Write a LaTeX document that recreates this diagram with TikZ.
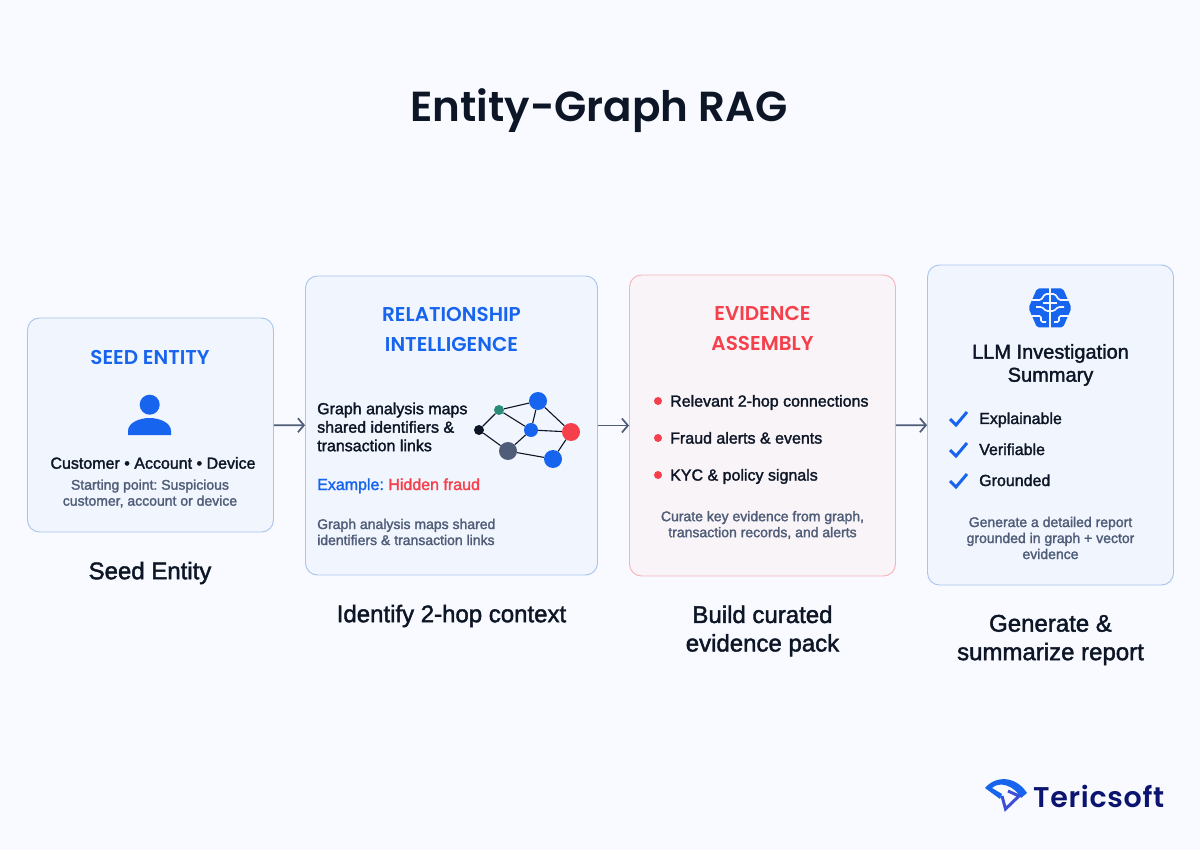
\documentclass[tikz,border=0pt]{standalone}
\usepackage{fontspec}
\usetikzlibrary{arrows.meta}
\setmainfont{Liberation Sans}
\newfontfamily\popfont{Poppins SemiBold}
\newfontfamily\logofont{Poppins SemiBold}[LetterSpace=2.5]
\newfontfamily\medfont{Liberation Sans}[FakeBold=1.8]
\definecolor{pagebg}{HTML}{F8FAFF}
\definecolor{cardfill}{HTML}{F1F5FD}
\definecolor{evfill}{HTML}{F9F4F8}
\definecolor{blueline}{HTML}{A9C4EC}
\definecolor{redline}{HTML}{F6B3BA}
\definecolor{tsblue}{HTML}{1764EE}
\definecolor{tsred}{HTML}{F5404C}
\definecolor{tsink}{HTML}{0D1626}
\definecolor{tsgrey}{HTML}{4F5D78}
\definecolor{tsgreen}{HTML}{2A8C78}
\definecolor{tsnavy}{HTML}{0B1470}
\definecolor{tsindigo}{HTML}{3D4FD6}
\newcommand{\fs}[1]{\fontsize{#1}{#1}\selectfont}
\frenchspacing
\begin{document}
\begin{tikzpicture}[x=1pt,y=-1pt,
    card/.style={rectangle,draw=blueline,fill=cardfill,rounded corners=12pt,line width=0.9pt},
    head/.style={align=center,text=tsblue,font=\popfont\fs{20},text depth=0pt},
    dark/.style={align=left,text=tsink,font=\medfont\fs{16},inner sep=0pt},
    row/.style={dark,anchor=west,text height=11pt,text depth=3pt},
    small/.style={align=center,text=tsgrey,font=\medfont\fs{14},inner sep=0pt},
    capt/.style={align=center,text=tsink,font=\medfont\fs{24}},
    flow/.style={->,>={Straight Barb[length=6pt,width=14pt]},draw=tsgrey,line width=1.7pt},
    link/.style={draw=tsink,line width=1.1pt},
    dot/.style={circle,fill=#1,inner sep=0pt},
    tick/.style={draw=tsblue,line width=3pt,line join=miter},
    trace/.style={draw=cardfill,line width=1.7pt,rounded corners=1.5pt}]
    \useasboundingbox[fill=pagebg] (0,0) rectangle (1200,850);

    \node[font=\popfont\fs{42},text=tsink] (title) at (599,111) {Entity-Graph RAG};

    \node[card,minimum width=246pt,minimum height=214pt] (seed) at (150.5,425) {};
    \node[card,minimum width=292pt,minimum height=299pt] (rel) at (451.5,425.5) {};
    \node[card,draw=redline,fill=evfill,minimum width=266pt,minimum height=301pt] (evid) at (762.5,425.5) {};
    \node[card,minimum width=246pt,minimum height=320pt] (llm) at (1050.5,425) {};

    \draw[flow] (seed) -- (rel);
    \draw[flow] (rel) -- (evid);
    \draw[flow] (evid) -- (llm);

    % seed card
    \node[head] (seedhead) at (150,357) {SEED ENTITY};
    \fill[tsblue] (149.7,404.7) circle (10);
    \fill[tsblue] (128,435) -- (128,431) .. controls (128,423) and (139,418) .. (149.5,418) .. controls (160,418) and (171,423) .. (171,431) -- (171,435) -- cycle;
    \node[dark,align=center] (seedtext) at (153,463) {Customer • Account • Device};
    \node[small] (seednote) at (150,493.5) {Starting point: Suspicious\\[2pt]customer, account or device};
    \node[capt] (seedcapt) at (150,573) {Seed Entity};

    % relationship card
    \node[head] (relhead) at (451.5,329) {RELATIONSHIP\\[10pt]INTELLIGENCE};
    \node[dark,anchor=west] (reltext) at (317,427) {Graph analysis maps\\[2.5pt]shared identifiers \&\\[2.5pt]transaction links};
    \node[row] (relex) at (317,486) {\textcolor{tsblue}{Example:} \textcolor{tsred}{Hidden fraud}};
    \node[small,align=left,anchor=west] (relnote) at (317,532) {Graph analysis maps shared\\[2pt]identifiers \& transaction links};
    \node[capt] (relcapt) at (451.5,616) {Identify 2-hop context};

    \node[dot=tsgreen,minimum size=10pt] (ga) at (499,410) {};
    \node[dot=tsblue,minimum size=18pt] (gb) at (538,401) {};
    \node[dot=tsblue,minimum size=14pt] (gc) at (531,430) {};
    \node[dot=tsred,minimum size=18pt] (gd) at (571,432) {};
    \node[dot=tsink,minimum size=10pt] (ge) at (479,430) {};
    \node[dot=tsgrey,minimum size=18pt] (gf) at (508,451) {};
    \node[dot=tsblue,minimum size=18pt] (gg) at (553,459) {};
    \foreach \a/\b in {ge/ga,ga/gb,ga/gc,gb/gc,gb/gd,gc/gd,gc/gf,ge/gf,gf/gg,gg/gd}
        \draw[link] (\a) -- (\b);

    % evidence card
    \node[head,text=tsred] (evhead) at (762.5,328) {EVIDENCE\\[10pt]ASSEMBLY};
    \foreach \y/\t/\n in {401/Relevant 2-hop connections/eva,438/Fraud alerts \& events/evb,475/KYC \& policy signals/evc}{
        \node[dot=tsred,minimum size=8pt] (\n dot) at (658,\y) {};
        \node[row] (\n) at (670,\y+1.6) {\t};
    }
    \node[small] (evnote) at (762.5,525) {Curate key evidence from graph,\\[2pt]transaction records, and alerts};
    \node[capt] (evcapt) at (762.5,631) {Build curated\\[4.5pt]evidence pack};

    % llm card
    \begin{scope}[shift={(1050,308)}]
        \fill[tsblue,rounded corners=2pt] (-21.5,0) -- (-13,-19.5) -- (13,-19.5) -- (21.5,0) -- (13,19.5) -- (-13,19.5) -- cycle;
        \draw[trace] (0,-21) -- (0,21);
        \draw[trace] (-23,-8) -- (-9,-8) -- (-5,-14) -- (0,-14) (23,-8) -- (9,-8) -- (5,-14) -- (0,-14);
        \draw[trace] (-14,-1) -- (-8,-1) -- (-4,3) -- (0,3) (14,-1) -- (8,-1) -- (4,3) -- (0,3);
        \draw[trace] (-19,8) -- (-9,8) -- (-9,14) -- (-4,14) (19,8) -- (9,8) -- (9,14) -- (4,14);
        \draw[trace] (-7,-5) -- (7,-5);
    \end{scope}
    \node[dark,align=center,font=\medfont\fs{20}] (llmhead) at (1050.5,365) {LLM Investigation\\[3pt]Summary};
    \foreach \y/\t/\n in {419/Explainable/lla,450/Verifiable/llb,481/Grounded/llc}{
        \node[row] (\n) at (979,\y+1) {\t};
        \draw[tick] (950,\y) -- ++(6,6) -- ++(11,-13);
    }
    \node[small] (llmnote) at (1050.5,538) {Generate a detailed report\\[2pt]grounded in graph + vector\\[2pt]evidence};
    \node[capt] (llmcapt) at (1050.5,640) {Generate \&\\[4.5pt]summarize report};

    % logo
    \fill[tsblue] (985,788) .. controls (996,775) and (1016,776) .. (1027,793) -- (1021,798) .. controls (1014,785) and (999,781) .. (992,788) -- (1002,794) -- (1000,799) -- cycle;
    \draw[tsindigo,line width=3pt,line join=miter] (1002,796) -- (1005.5,809) -- (1019,796) -- (1008,791);
    \node[font=\logofont\fs{28.5},text=tsnavy,anchor=west,inner sep=0pt] (logo) at (1033,796.5) {Tericsoft};
\end{tikzpicture}
\end{document}
